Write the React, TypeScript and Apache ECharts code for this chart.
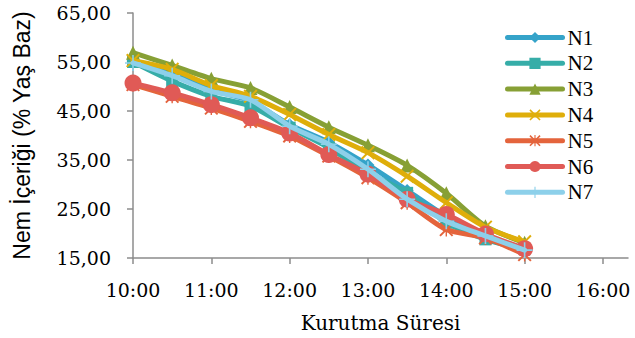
import React, { useEffect, useRef } from "react";
import * as echarts from "echarts";

const times = ["10:00", "10:30", "11:00", "11:30", "12:00", "12:30", "13:00", "13:30", "14:00", "14:30", "15:00"];
const seriesNames = ["N1", "N2", "N3", "N4", "N5", "N6", "N7"];
const n1 = [55.2, 52.6, 49.3, 47.0, 42.2, 38.6, 34.0, 28.8, 23.5, 19.6, 16.9];
const n2 = [55.0, 51.1, 48.0, 46.0, 41.6, 37.5, 32.4, 28.3, 22.2, 18.8, 16.8];
const n3 = [56.9, 54.3, 51.6, 49.7, 45.8, 41.7, 38.0, 33.9, 28.2, 21.5, 18.1];
const n4 = [55.3, 53.5, 50.2, 48.0, 44.3, 40.2, 36.5, 31.7, 26.3, 21.3, 18.3];
const n5 = [50.4, 48.0, 45.6, 42.9, 39.9, 35.8, 31.4, 26.3, 20.8, 19.1, 15.7];
const n6 = [50.7, 48.7, 46.3, 43.6, 40.5, 36.1, 32.1, 27.0, 23.9, 19.9, 16.9];
const n7 = [54.8, 52.2, 49.0, 47.3, 41.9, 38.2, 33.1, 27.0, 22.5, 19.5, 16.6];
const yTicks = ["15,00", "25,00", "35,00", "45,00", "55,00", "65,00"];
const xTicks = ["10:00", "11:00", "12:00", "13:00", "14:00", "15:00", "16:00"];

const colors = ["#35A3C9", "#36ADA8", "#87A035", "#DFAE0A", "#E4643C", "#E05A56", "#8DD0EA"];

const xPath = "path://M0,1 L1,0 L10,9 L9,10 Z M9,0 L10,1 L1,10 L0,9 Z";
const starPath = "path://M0,1 L1,0 L10,9 L9,10 Z M9,0 L10,1 L1,10 L0,9 Z M4.5,0 L5.5,0 L5.5,10 L4.5,10 Z";
const plusPath = "path://M4.5,0 L5.5,0 L5.5,10 L4.5,10 Z M0,4.5 L10,4.5 L10,5.5 L0,5.5 Z";
const symbols = ["diamond", "rect", "triangle", xPath, starPath, "circle", plusPath];
const symbolSizes = [13, 12, 14, 14, 14, 17, 16];

const toHours = (t: string) => {
  const [h, m] = t.split(":").map(Number);
  return h + m / 60;
};

export default function App() {
  const ref = useRef<HTMLDivElement>(null);
  useEffect(() => {
    if (!ref.current) return;
    const chart = echarts.init(ref.current, undefined, { renderer: "svg" });
    const all = [n1, n2, n3, n4, n5, n6, n7];
    const serif = "DejaVu Serif";
    chart.setOption({
      animation: false,
      color: colors,
      grid: { left: 133, right: 7, top: 13, bottom: 79 },
      legend: {
        orient: "vertical",
        left: 500,
        top: 22,
        itemWidth: 55,
        itemHeight: 14,
        itemGap: 4.8,
        lineStyle: { width: 5, cap: "round" },
        textStyle: { fontFamily: "Liberation Serif", fontSize: 21, color: "#000" },
        data: seriesNames,
      },
      xAxis: {
        type: "value",
        min: 10,
        max: 16.32,
        interval: 1,
        name: "Kurutma Süresi",
        nameLocation: "middle",
        nameGap: 55,
        nameTextStyle: { fontFamily: serif, fontSize: 20, color: "#000" },
        axisLine: { lineStyle: { color: "#8c8c8c", width: 1.5 } },
        axisTick: { show: true, length: 6, lineStyle: { color: "#8c8c8c", width: 1.5 } },
        splitLine: { show: false },
        axisLabel: {
          margin: 22,
          fontFamily: serif,
          fontSize: 19,
          color: "#000",
          showMaxLabel: false,
          formatter: (v: number) => xTicks[Math.round(v) - 10] ?? "",
        },
      },
      yAxis: {
        type: "value",
        min: 15,
        max: 65,
        interval: 10,
        name: "Nem İçeriği (% Yaş Baz)",
        nameLocation: "middle",
        nameGap: 100,
        nameTextStyle: { fontFamily: "Liberation Sans", fontSize: 23, color: "#000" },
        axisLine: { show: true, lineStyle: { color: "#8c8c8c", width: 1.5 } },
        axisTick: { show: true, length: 6, lineStyle: { color: "#8c8c8c", width: 1.5 } },
        splitLine: { show: false },
        axisLabel: {
          margin: 22,
          fontFamily: serif,
          fontSize: 19,
          color: "#000",
          formatter: (v: number) => yTicks[Math.round((v - 15) / 10)] ?? "",
        },
      },
      series: seriesNames.map((name, i) => ({
        name,
        type: "line",
        smooth: 0.25,
        symbol: symbols[i],
        symbolSize: symbolSizes[i],
        showAllSymbol: true,
        lineStyle: { width: 5, color: colors[i], cap: "round" },
        itemStyle: { color: colors[i], borderWidth: 0 },
        data: times.map((t, j) => [toHours(t), all[i][j]]),
        z: 2 + i,
      })),
    });
    return () => chart.dispose();
  }, []);
  return <div ref={ref} style={{ width: 635, height: 338, position: "absolute", left: 0, top: 0 }} />;
}
